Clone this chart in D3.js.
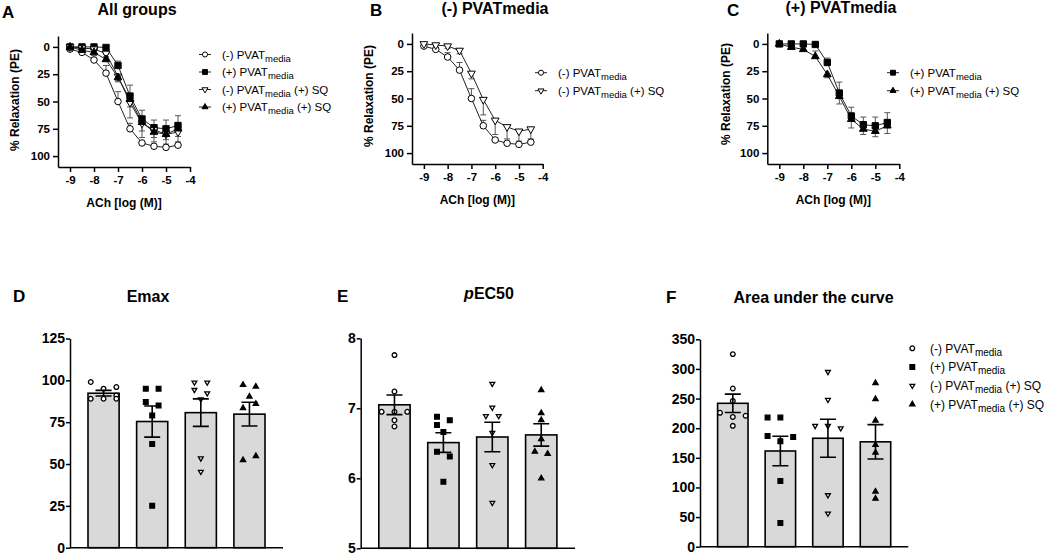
<!DOCTYPE html>
<html>
<head>
<meta charset="utf-8">
<script src="https://cdn.jsdelivr.net/npm/d3@7"></script>
<style>
body { margin: 0; background: #fff; }
svg { font-family: "Liberation Sans", Arial, sans-serif; }
</style>
</head>
<body>
<script>
// concentration-response data (% relaxation of PE tone), errors are one-sided SEM
var conc = [-9, -8.5, -8, -7.5, -7, -6.5, -6, -5.5, -5, -4.5];
var ctrlMean   = [2, 5, 12, 24, 50, 75, 88, 91, 92, 90];
var ctrlErr    = [0, -1, -4, -7, -9, -5, -2, -1.5, -1.5, -1.5];
var pvatMean   = [0, 0, 0, 0.5, 17, 45, 66, 74, 75, 72];
var pvatErr    = [0, 0, 0, -1, -4, -10, -8, -7, -8, -9];
var sqCtrlMean = [0, 1, 2, 6, 27, 51, 70, 76, 80, 78];
var sqCtrlErr  = [0, 0, 2, 3, 5, 14, 13, 11, 9, 9];
var sqPvatMean = [0, 3, 5, 11.5, 28, 48, 69, 78, 80, 75];
var sqPvatErr  = [0, 0, 0, -5, 3, 7, 8, 5, 5, 7];

var concTicks = [-9, -8, -7, -6, -5, -4];
var relaxTicks = [0, 25, 50, 75, 100];

// bar chart data
var groups = ["ctrl", "pvat", "sqCtrl", "sqPvat"];
var groupMain = ["(-) PVAT", "(+) PVAT", "(-) PVAT", "(+) PVAT"];
var groupTail = ["", "", " (+) SQ", " (+) SQ"];

var emaxMean = [92.3, 75.4, 80.7, 79.8];
var emaxSem  = [1.7, 9.3, 8.2, 7.1];
var emaxVals = [[99, 95, 96, 89, 89, 91, 89], [95, 95, 87, 85, 79, 62, 25],
                [98.7, 98.7, 94.3, 92.3, 88.7, 53.4, 45.4], [97.3, 96.3, 90.3, 83.4, 86, 52.4, 54.8]];
var emaxCols = [[-2, 0, 2, -2, 0, 2, 2], [-1, 1, -1, 1, 0, 0, 0],
                [-1, 1, -1, 1, 0, 0, 0], [-1, 1, 0, -1, 1, -1, 1]];
var emaxTicks = [0, 25, 50, 75, 100, 125];

var pecMean = [7.05, 6.51, 6.59, 6.62];
var pecSem  = [0.14, 0.14, 0.21, 0.16];
var pecVals = [[7.76, 7.24, 6.95, 6.95, 6.95, 6.83, 6.74], [6.88, 6.83, 6.76, 6.66, 6.38, 6.31, 5.95],
               [7.35, 7.01, 6.89, 6.89, 6.65, 6.19, 5.65], [7.26, 6.93, 6.83, 6.56, 6.38, 6.35, 6.0]];
var pecCols = [[0, 0, -2, 0, 2, 0, 0], [-1, 1, -1, 0, -1, 1, 0],
               [0, 0, -1, 1, 0, 0, 0], [0, 0, 0, 0, -1, 1, 0]];
var pecTicks = [5, 6, 7, 8];

var aucMean = [242, 161.5, 183, 177];
var aucSem  = [15.5, 25, 32, 29];
var aucVals = [[325, 267, 246, 226, 219, 221, 204], [218, 218, 187, 185, 178, 111, 40],
               [295, 248, 204, 204, 200, 87, 56], [276, 249, 213, 172, 159, 93, 81]];
var aucCols = [[0, 0, 0, -2, 0, 2, 0], [-2, 0, -2, 2, 0, 0, 0],
               [0, 0, -2, 0, 2, 0, 0], [0, 0, 0, 0, 0, 0, 0]];
var aucTicks = [0, 50, 100, 150, 200, 250, 300, 350];

// marker styles per group
var style = {
  ctrl:   { sym: d3.symbolCircle,   fill: "#fff", rot: 0 },
  pvat:   { sym: d3.symbolSquare,   fill: "#000", rot: 0 },
  sqCtrl: { sym: d3.symbolTriangle, fill: "#fff", rot: 180 },
  sqPvat: { sym: d3.symbolTriangle, fill: "#000", rot: 0 }
};
var curveSize = { ctrl: 34, pvat: 40, sqCtrl: 26, sqPvat: 26 };
var dotSize = { ctrl: 17, pvat: 22, sqCtrl: 10, sqPvat: 12 };

var series = {
  ctrl:   { mean: ctrlMean,   err: ctrlErr },
  pvat:   { mean: pvatMean,   err: pvatErr },
  sqCtrl: { mean: sqCtrlMean, err: sqCtrlErr },
  sqPvat: { mean: sqPvatMean, err: sqPvatErr }
};

var svg = d3.select("body").append("svg").attr("width", 1050).attr("height", 553);

function marker(sel, key, size, sw) {
  var st = style[key];
  sel.append("path")
    .attr("d", d3.symbol().type(st.sym).size(size))
    .attr("transform", function(d) { return "translate(" + d.px + "," + d.py + ") rotate(" + st.rot + ")"; })
    .attr("fill", st.fill)
    .attr("stroke", "#000")
    .attr("stroke-width", sw);
}

function styleAxis(ax, fs) {
  ax.attr("font-family", null).attr("font-size", fs).attr("font-weight", "bold");
  ax.selectAll(".domain, line").attr("stroke", "#000").attr("stroke-width", 1.5);
  ax.selectAll("text").attr("fill", "#000");
}

function legendLabel(t, i, fs, sub) {
  t.append("tspan").text(groupMain[i]);
  t.append("tspan").attr("font-size", sub).attr("dy", 3).text("media");
  if (groupTail[i]) t.append("tspan").attr("font-size", fs).attr("dy", -3).text(groupTail[i]);
}

function curvePanel(cfg) {
  var g = svg.append("g");
  var x = d3.scaleLinear().domain([-9.5, -4]).range(cfg.xr);
  var y = d3.scaleLinear().domain([-10, 110]).range(cfg.yr);

  var ay = g.append("g").attr("transform", "translate(" + cfg.xr[0] + ",0)")
    .call(d3.axisLeft(y).tickValues(relaxTicks).tickSize(5).tickPadding(3).tickSizeOuter(0));
  styleAxis(ay, 11.5);
  var ax = g.append("g").attr("transform", "translate(0," + cfg.yr[1] + ")")
    .call(d3.axisBottom(x).tickValues(concTicks).tickSize(5).tickPadding(4).tickSizeOuter(0)
      .tickFormat(function(d) { return String(d); }));
  styleAxis(ax, 11.5);

  g.append("text").attr("transform", "translate(" + cfg.ylabX + "," + cfg.ylabY + ") rotate(-90)")
    .attr("text-anchor", "middle").attr("font-weight", "bold").attr("font-size", 12)
    .attr("dy", "0.35em").text("% Relaxation (PE)");
  g.append("text").attr("x", (cfg.xr[0] + cfg.xr[1]) / 2).attr("y", cfg.yr[1] + 39.5)
    .attr("text-anchor", "middle").attr("font-weight", "bold").attr("font-size", 12)
    .text("ACh [log (M)]");
  g.append("text").attr("x", cfg.letterX).attr("y", cfg.letterY)
    .attr("font-weight", "bold").attr("font-size", 17).text(cfg.letter);
  g.append("text").attr("x", cfg.titleX).attr("y", cfg.titleY).attr("text-anchor", "middle")
    .attr("font-weight", "bold").attr("font-size", 16).text(cfg.title);

  var pts = {};
  cfg.keys.forEach(function(k) {
    pts[k] = conc.map(function(c, i) {
      return { px: x(c), py: y(series[k].mean[i]), pe: y(series[k].mean[i] + series[k].err[i]), e: series[k].err[i] };
    });
  });
  cfg.keys.forEach(function(k) {
    g.selectAll(null).data(pts[k].filter(function(p) { return p.e !== 0; })).enter().append("path")
      .attr("d", function(p) { return "M" + p.px + "," + p.py + "V" + p.pe + "M" + (p.px - 3) + "," + p.pe + "H" + (p.px + 3); })
      .attr("stroke", "#555").attr("stroke-width", 1).attr("fill", "none");
  });
  cfg.keys.forEach(function(k) {
    g.append("path").datum(pts[k])
      .attr("d", d3.line().x(function(p) { return p.px; }).y(function(p) { return p.py; }))
      .attr("fill", "none").attr("stroke", "#222").attr("stroke-width", 1);
  });
  cfg.keys.forEach(function(k) {
    marker(g.selectAll(null).data(pts[k]).enter(), k, curveSize[k], 1);
  });

  // legend
  cfg.keys.forEach(function(k, j) {
    var i = groups.indexOf(k);
    var ly = cfg.leg[1] + j * cfg.leg[2];
    g.append("line").attr("x1", cfg.leg[0] - 6).attr("x2", cfg.leg[0] + 6).attr("y1", ly).attr("y2", ly)
      .attr("stroke", "#222").attr("stroke-width", 1);
    marker(g.selectAll(null).data([{ px: cfg.leg[0], py: ly }]).enter(), k, curveSize[k] * 0.6, 1);
    var t = g.append("text").attr("x", cfg.leg[0] + 17).attr("y", ly).attr("dy", "0.35em")
      .attr("font-size", 11.5);
    legendLabel(t, i, 11.5, 9.5);
  });
}

curvePanel({ letter: "A", letterX: 2, letterY: 18, title: "All groups", titleX: 137, titleY: 14.5,
  xr: [58, 190], yr: [36, 167], ylabX: 15, ylabY: 100,
  keys: ["ctrl", "pvat", "sqCtrl", "sqPvat"], leg: [205, 54.5, 17.5] });
curvePanel({ letter: "B", letterX: 370, letterY: 16, title: "(-) PVATmedia", titleX: 495, titleY: 13.5,
  xr: [412, 542.7], yr: [33, 164], ylabX: 368.5, ylabY: 96,
  keys: ["ctrl", "sqCtrl"], leg: [541, 72.7, 18] });
curvePanel({ letter: "C", letterX: 727, letterY: 16, title: "(+) PVATmedia", titleX: 841, titleY: 12.5,
  xr: [767.3, 899.3], yr: [33, 164], ylabX: 726, ylabY: 94,
  keys: ["pvat", "sqPvat"], leg: [893, 72.7, 18] });

function barPanel(cfg) {
  var g = svg.append("g");
  var x = d3.scaleBand().domain(groups).range(cfg.xr).paddingInner(0.36).paddingOuter(0.37);
  var y = d3.scaleLinear().domain(cfg.dom).range(cfg.yr);
  var bw = x.bandwidth();

  g.selectAll(null).data(groups).enter().append("rect")
    .attr("x", function(d) { return x(d); })
    .attr("y", function(d, i) { return y(cfg.mean[i]); })
    .attr("width", bw)
    .attr("height", function(d, i) { return y(cfg.dom[0]) - y(cfg.mean[i]); })
    .attr("fill", "#d9d9d9").attr("stroke", "#000").attr("stroke-width", 1.6);

  groups.forEach(function(k, i) {
    var cx = x(k) + bw / 2;
    var dots = cfg.vals[i].map(function(v, j) { return { px: cx + cfg.cols[i][j] * 6.4, py: y(v) }; });
    marker(g.selectAll(null).data(dots).enter(), k, dotSize[k], 1.3);
  });

  g.selectAll(null).data(groups).enter().append("path")
    .attr("d", function(d, i) {
      var cx = x(d) + bw / 2, hi = y(cfg.mean[i] + cfg.sem[i]), lo = y(cfg.mean[i] - cfg.sem[i]);
      return "M" + cx + "," + hi + "V" + lo + "M" + (cx - 8) + "," + hi + "H" + (cx + 8) + "M" + (cx - 8) + "," + lo + "H" + (cx + 8);
    })
    .attr("stroke", "#000").attr("stroke-width", 1.6).attr("fill", "none");

  var ay = g.append("g").attr("transform", "translate(" + cfg.xr[0] + ",0)")
    .call(d3.axisLeft(y).tickValues(cfg.ticks).tickSize(4).tickPadding(1).tickSizeOuter(0)
      .tickFormat(function(d) { return String(d); }));
  styleAxis(ay, 14);
  g.append("line").attr("x1", cfg.xr[0]).attr("x2", cfg.xr[1]).attr("y1", cfg.yr[0]).attr("y2", cfg.yr[0])
    .attr("stroke", "#000").attr("stroke-width", 1.5);

  g.append("text").attr("x", cfg.letterX).attr("y", cfg.letterY)
    .attr("font-weight", "bold").attr("font-size", 17).text(cfg.letter);
  var t = g.append("text").attr("x", cfg.titleX).attr("y", cfg.titleY).attr("text-anchor", "middle")
    .attr("font-weight", "bold").attr("font-size", 16);
  if (cfg.italic) t.append("tspan").attr("font-style", "italic").text(cfg.italic);
  t.append("tspan").text(cfg.title);
}

barPanel({ letter: "D", letterX: 13, letterY: 301.7, title: "Emax", titleX: 148, titleY: 301.7,
  xr: [70, 283], yr: [547.7, 338.5], dom: [0, 125], ticks: emaxTicks,
  mean: emaxMean, sem: emaxSem, vals: emaxVals, cols: emaxCols });
barPanel({ letter: "E", letterX: 337, letterY: 301.7, title: "EC50", italic: "p", titleX: 489, titleY: 298.5,
  xr: [360.7, 575], yr: [548.3, 338.3], dom: [5, 8], ticks: pecTicks,
  mean: pecMean, sem: pecSem, vals: pecVals, cols: pecCols });
barPanel({ letter: "F", letterX: 666, letterY: 303, title: "Area under the curve", titleX: 813.5, titleY: 303,
  xr: [700, 908.3], yr: [546.7, 339.3], dom: [0, 350], ticks: aucTicks,
  mean: aucMean, sem: aucSem, vals: aucVals, cols: aucCols });

// legend of the bar charts
var lg = svg.append("g");
groups.forEach(function(k, i) {
  var ly = 348.3 + i * 18.7;
  marker(lg.selectAll(null).data([{ px: 912.3, py: ly }]).enter(), k, dotSize[k], 1.3);
  var t = lg.append("text").attr("x", 930).attr("y", ly).attr("dy", "0.35em").attr("font-size", 12);
  legendLabel(t, i, 12, 10);
});
</script>
</body>
</html>
